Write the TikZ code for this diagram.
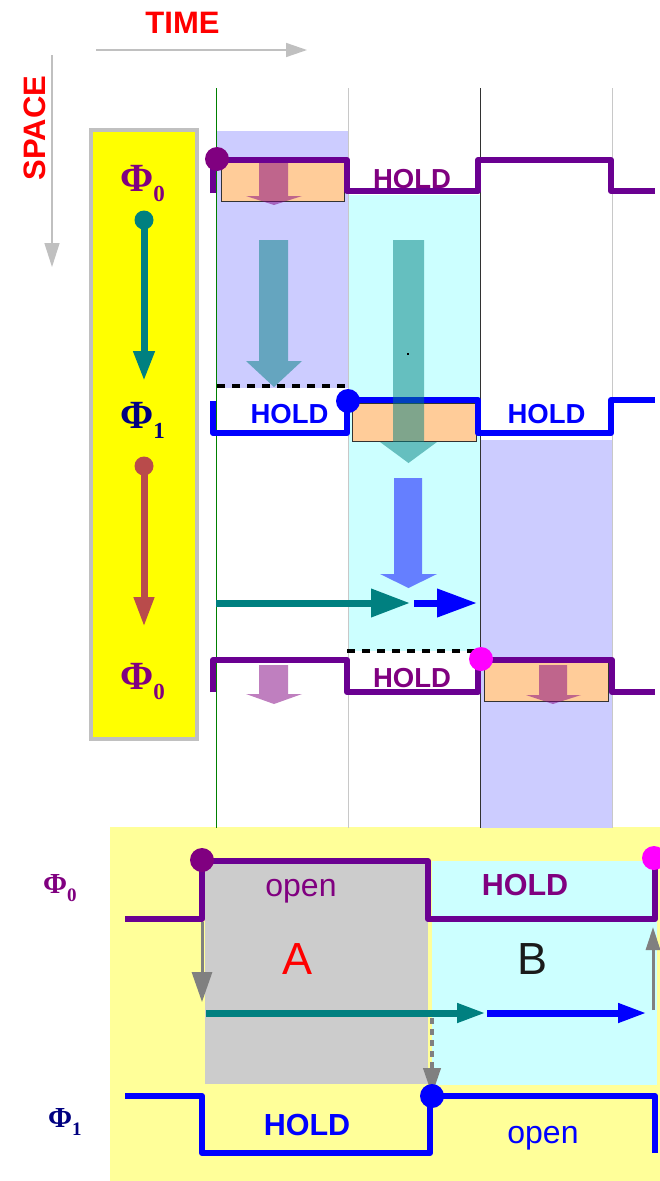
\documentclass[tikz,border=0pt]{standalone}
\usepackage{fontspec}
\setmainfont{Liberation Sans}
\newfontfamily\phif{Liberation Serif}
\usetikzlibrary{arrows.meta}
\definecolor{wpurple}{RGB}{106,0,145}
\definecolor{tpurple}{RGB}{128,0,128}
\definecolor{lav}{RGB}{204,204,255}
\definecolor{lcyan}{RGB}{204,255,255}
\definecolor{orng}{RGB}{255,204,153}
\definecolor{teal2}{RGB}{0,128,128}
\definecolor{brick}{RGB}{185,75,75}
\definecolor{navy2}{RGB}{0,0,128}
\definecolor{pyellow}{RGB}{255,255,153}
\definecolor{lgray}{RGB}{204,204,204}
\definecolor{axisgray}{RGB}{192,192,192}
\definecolor{gridgray}{RGB}{200,200,200}
\definecolor{darkgrid}{RGB}{50,50,50}
\definecolor{bdark}{RGB}{26,26,26}
\definecolor{pmagenta}{RGB}{255,0,255}
\definecolor{pyel}{RGB}{255,255,0}
\definecolor{pblue}{RGB}{0,0,255}
\definecolor{pred}{RGB}{255,0,0}
\definecolor{pgreen}{RGB}{0,128,0}
\definecolor{pgray}{RGB}{128,128,128}
\tikzset{
  wave/.style={line width=6pt, line join=round},
  gridline/.style={line width=1pt},
  dot/.style={circle, inner sep=0pt, minimum size=24pt},
  obox/.style={fill=orng, draw=black!80, line width=0.8pt},
  fat/.style={opacity=0.5},
  holdtxt/.style={font=\bfseries\fontsize{27.5}{27.5}\selectfont, anchor=base, inner sep=0pt},
  dashblk/.style={line width=4pt, dash pattern=on 8pt off 7pt},
  phitxt/.style={anchor=base west, inner sep=0pt, font=\phif\bfseries},
}
\newcommand\phiA[1]{{\fontsize{40}{40}\selectfont Φ}\raisebox{-10pt}{\fontsize{23}{23}\selectfont #1}}
\newcommand\phiB[1]{{\fontsize{29}{29}\selectfont Φ}\raisebox{-8pt}{\fontsize{19}{19}\selectfont #1}}
\begin{document}
\begin{tikzpicture}[x=1pt,y=-1pt]
\useasboundingbox (0,0) rectangle (660,1181);
\fill[white] (0,0) rectangle (660,1181);

% ---------- bottom panel backgrounds
\fill[pyellow] (110,827) rectangle (660,1181);
\fill[lgray] (205,862) rectangle (428,1084);
\fill[lcyan] (432,861) rectangle (657,1085);

% ---------- top column shadings
\fill[lav] (217,131) rectangle (348,388);
\fill[lcyan] (348,195) rectangle (480,651);
\fill[lav] (481,440) rectangle (612,828);

% ---------- grid lines
\draw[gridline, pgreen] (216,88) -- (216,828);
\draw[gridline, gridgray] (348,88) -- (348,828);
\draw[gridline, darkgrid] (480,88) -- (480,828);
\draw[gridline, gridgray] (612,88) -- (612,828);

% ---------- axes
\node[font=\bfseries\fontsize{31}{31}\selectfont, text=pred, anchor=base, inner sep=0pt] (time) at (182.5,33) {TIME};
\coordinate (ta) at (96,50);
\coordinate (tb) at (307,50);
\draw[axisgray, line width=1.5pt, -{Triangle[length=21pt,width=14pt]}] (ta) -- (tb);
\node[font=\bfseries\fontsize{31}{31}\selectfont, text=pred, anchor=base, inner sep=0pt, rotate=90] (space) at (45,128) {SPACE};
\coordinate (sa) at (52,55);
\coordinate (sb) at (52,267);
\draw[axisgray, line width=1.5pt, -{Triangle[length=24pt,width=15pt]}] (sa) -- (sb);

% ---------- yellow box
\draw[axisgray, line width=4pt, fill=pyel] (91,130) rectangle (196.5,739);
\node[phitxt, text=tpurple] (p0a) at (120,191) {\phiA{0}};
\node[phitxt, text=navy2] (p1a) at (120,428) {\phiA{1}};
\node[phitxt, text=tpurple] (p0b) at (120,689) {\phiA{0}};
\node[circle, fill=teal2, inner sep=0pt, minimum size=19pt] (tc) at (144,220) {};
\coordinate (tt) at (144,381);
\draw[teal2, line width=7pt, -{Triangle[length=30pt,width=20pt]}] (tc.center) -- (tt);
\node[circle, fill=brick, inner sep=0pt, minimum size=19pt] (bc) at (144,466) {};
\coordinate (bt) at (144,627);
\draw[brick, line width=7pt, -{Triangle[length=30pt,width=19pt]}] (bc.center) -- (bt);

% ---------- orange boxes
\draw[obox] (221,162) rectangle (344,201);
\draw[obox] (352,403) rectangle (476,441);
\draw[obox] (484,662) rectangle (608,701);

% ---------- waveforms (top)
\draw[wave, wpurple] (213,193) -- (213,160) -- (347,160) -- (347,191) -- (478,191) -- (478,160) -- (611,160) -- (611,191) -- (655,191);
\draw[wave, pblue] (213,401) -- (213,433) -- (347,433) -- (347,400) -- (478,400) -- (478,433) -- (611,433) -- (611,400) -- (655,400);
\draw[wave, wpurple] (213,692) -- (213,660) -- (347,660) -- (347,692) -- (478,692) -- (478,660) -- (612,660) -- (612,692) -- (655,692);

% dashed lines
\draw[dashblk] (217,386) -- (347,386);
\draw[dashblk] (347,651) -- (478,651);

% dots
\node[dot, fill=tpurple] (d0) at (217,159) {};
\node[dot, fill=pblue] (d1) at (348,401) {};
\node[dot, fill=pmagenta] (d2) at (481,659) {};

% ---------- translucent fat arrows
\fill[tpurple, fat] (259,163) -- (288,163) -- (288,196) -- (302,196) -- (274,205) -- (246,196) -- (259,196) -- cycle;
\fill[tpurple, fat] (259,665) -- (288,665) -- (288,694) -- (302,694) -- (274,704) -- (246,694) -- (259,694) -- cycle;
\fill[tpurple, fat] (539,665) -- (567,665) -- (567,695) -- (581,695) -- (553,704) -- (526,695) -- (539,695) -- cycle;
\fill[teal2, fat] (259,240) -- (288,240) -- (288,361) -- (302,361) -- (274,387) -- (246,361) -- (259,361) -- cycle;
\fill[teal2, fat] (393,240) -- (424,240) -- (424,442) -- (437,442) -- (408.5,463) -- (380,442) -- (393,442) -- cycle;
\fill[pblue, fat] (394,478) -- (422,478) -- (422,574) -- (437,574) -- (408.5,588) -- (380,574) -- (394,574) -- cycle;
\fill[black] (407,353) rectangle (409,355);

% horizontal arrows
\coordinate (h0) at (216,603);
\coordinate (h1) at (410,603);
\coordinate (h2) at (414,603);
\coordinate (h3) at (477,603);
\draw[teal2, line width=7pt, -{Triangle[length=39pt,width=27pt]}] (h0) -- (h1);
\draw[pblue, line width=7pt, -{Triangle[length=40pt,width=27pt]}] (h2) -- (h3);

% HOLD labels (top)
\node[holdtxt, text=tpurple] (hA) at (412,188) {HOLD};
\node[holdtxt, text=pblue] (hB) at (289.5,423) {HOLD};
\node[holdtxt, text=pblue] (hC) at (546.5,423) {HOLD};
\node[holdtxt, text=tpurple] (hD) at (412,687) {HOLD};

% ---------- bottom panel
\node[phitxt, text=tpurple] (q0) at (43,893) {\phiB{0}};
\node[phitxt, text=navy2] (q1) at (48,1127) {\phiB{1}};

\draw[wave, wpurple] (125,919) -- (202,919) -- (202,861) -- (428,861) -- (428,919) -- (655,919) -- (655,858);
\draw[wave, pblue] (125,1096) -- (202,1096) -- (202,1153) -- (430,1153) -- (430,1096) -- (655,1096) -- (655,1153);

\coordinate (g0) at (202,922);
\coordinate (g1) at (202,1002);
\draw[pgray, line width=3pt, -{Triangle[length=30pt,width=20pt]}] (g0) -- (g1);
\coordinate (u0) at (653,1010);
\coordinate (u1) at (653,927);
\draw[pgray, line width=3pt, -{Triangle[length=23pt,width=14pt]}] (u0) -- (u1);
\coordinate (v0) at (432,1018);
\coordinate (v1) at (432,1095);
\draw[pgray, line width=4pt, dash pattern=on 6pt off 5pt, -{Triangle[length=27pt,width=17pt]}] (v0) -- (v1);

\coordinate (k0) at (206,1013);
\coordinate (k1) at (486,1013);
\coordinate (k2) at (487,1013);
\coordinate (k3) at (647,1013);
\draw[teal2, line width=7pt, -{Triangle[length=29pt,width=18pt]}] (k0) -- (k1);
\draw[pblue, line width=7pt, -{Triangle[length=29pt,width=18pt]}] (k2) -- (k3);

\node[dot, fill=tpurple] (e0) at (202,860) {};
\node[dot, fill=pmagenta] (e1) at (654,858) {};
\node[dot, fill=pblue] (e2) at (432,1096) {};

\node[font=\fontsize{32}{32}\selectfont, text=tpurple, anchor=base, inner sep=0pt] (op1) at (301,896) {open};
\node[font=\bfseries\fontsize{30.5}{30.5}\selectfont, text=tpurple, anchor=base, inner sep=0pt] (hE) at (525,895) {HOLD};
\node[font=\fontsize{45}{45}\selectfont, text=pred, anchor=base, inner sep=0pt] (la) at (298,974) {A};
\node[font=\fontsize{45}{45}\selectfont, text=bdark, anchor=base, inner sep=0pt] (lb) at (533,974) {B};
\node[font=\bfseries\fontsize{30.5}{30.5}\selectfont, text=pblue, anchor=base, inner sep=0pt] (hF) at (307,1135) {HOLD};
\node[font=\fontsize{32}{32}\selectfont, text=pblue, anchor=base, inner sep=0pt] (op2) at (543,1143) {open};
\end{tikzpicture}
\end{document}
